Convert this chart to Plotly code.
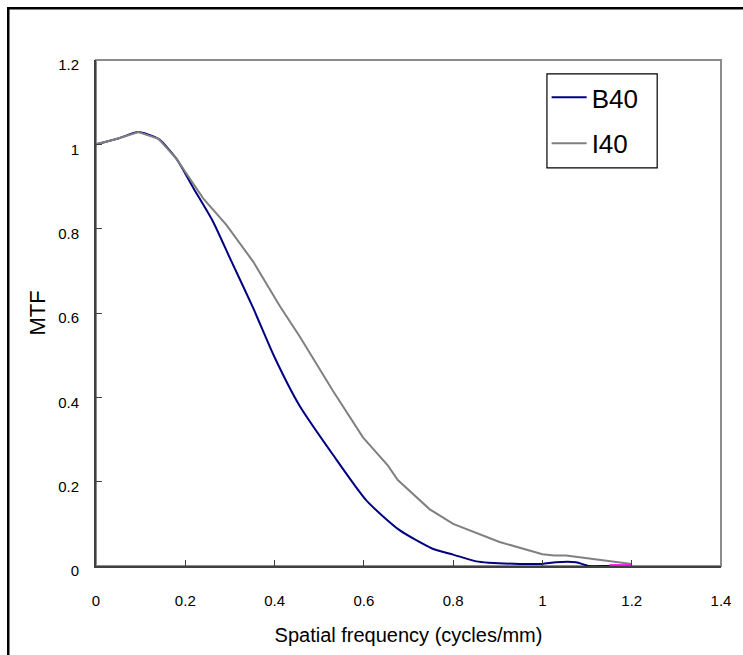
import plotly.graph_objects as go

# Data
b40_x = [0, 0.05, 0.095, 0.14, 0.18, 0.22, 0.262, 0.30, 0.352, 0.40, 0.456, 0.53,
         0.606, 0.68, 0.754, 0.80, 0.852, 0.88, 0.95, 1.0, 1.03, 1.075, 1.105, 1.15, 1.2]
b40_y = [1.0, 1.014, 1.029, 1.013, 0.966, 0.893, 0.817, 0.73, 0.612, 0.495, 0.38, 0.265,
         0.155, 0.085, 0.041, 0.027, 0.011, 0.008, 0.005, 0.005, 0.009, 0.009, 0.0, 0.0, 0.0]

i40_x = [0, 0.05, 0.095, 0.14, 0.18, 0.24, 0.292, 0.352, 0.412, 0.456, 0.531, 0.598,
         0.654, 0.676, 0.747, 0.80, 0.904, 1.0, 1.027, 1.053, 1.2]
i40_y = [1.0, 1.014, 1.029, 1.013, 0.966, 0.872, 0.809, 0.722, 0.616, 0.545, 0.415, 0.305,
         0.238, 0.204, 0.135, 0.10, 0.057, 0.028, 0.025, 0.025, 0.005]

extra_x = [1.15, 1.2]
extra_y = [0.002, 0.002]

x_ticks = [0, 0.2, 0.4, 0.6, 0.8, 1, 1.2, 1.4]
x_tick_labels = ["0", "0.2", "0.4", "0.6", "0.8", "1", "1.2", "1.4"]
y_ticks = [0, 0.2, 0.4, 0.6, 0.8, 1, 1.2]
y_tick_labels = ["0", "0.2", "0.4", "0.6", "0.8", "1", "1.2"]

FONT = "Liberation Sans, Arial, sans-serif"

fig = go.Figure()
fig.add_trace(go.Scatter(x=b40_x, y=b40_y, mode="lines", name="B40",
                         line=dict(color="#000080", width=2), legendgroup="a",
                         line_shape="spline", line_smoothing=0.6))
fig.add_trace(go.Scatter(x=i40_x, y=i40_y, mode="lines", name="I40",
                         line=dict(color="#808080", width=2), legendgroup="b"))
fig.add_trace(go.Scatter(x=extra_x, y=extra_y, mode="lines", showlegend=False,
                         line=dict(color="#ff00ff", width=2), hoverinfo="skip"))

fig.update_layout(
    width=743, height=655,
    margin=dict(l=96, r=20, t=60, b=87),
    paper_bgcolor="white", plot_bgcolor="white",
    font=dict(family=FONT, color="black"),
    showlegend=True,
    legend=dict(x=0.721, y=0.9724, xanchor="left", yanchor="top",
                borderwidth=0, bgcolor="rgba(0,0,0,0)",
                font=dict(size=26, family=FONT), tracegroupgap=9,
                traceorder="grouped", itemwidth=35),
    shapes=[
        dict(type="rect", xref="paper", yref="paper", x0=0, x1=1, y0=0, y1=1,
             line=dict(color="#8c8c8c", width=2), layer="below"),
        # legend frame
        dict(type="rect", xref="paper", yref="paper", x0=0.7215, x1=0.8979,
             y0=0.787, y1=0.9724, line=dict(color="black", width=1.2),
             fillcolor="rgba(0,0,0,0)"),
        # outer frame
        dict(type="rect", xref="paper", yref="paper", x0=-0.1404, x1=1.1,
             y0=-0.3, y1=1.1024, line=dict(color="black", width=2.5)),
    ],
)

fig.update_xaxes(range=[0, 1.4], tickvals=x_ticks, ticktext=x_tick_labels,
                 showgrid=False, zeroline=False, showline=True,
                 linecolor="#404040", linewidth=2, ticks="inside", ticklen=6,
                 tickcolor="#404040", tickwidth=1, ticklabelstandoff=20,
                 tickfont=dict(size=15, family=FONT),
                 title=dict(text="Spatial frequency (cycles/mm)",
                            font=dict(size=20, family=FONT), standoff=20))
fig.update_yaxes(range=[0, 1.2], tickvals=y_ticks, ticktext=y_tick_labels,
                 showgrid=False, zeroline=False, showline=True,
                 linecolor="#404040", linewidth=2, ticks="inside", ticklen=6,
                 tickcolor="#404040", tickwidth=1, ticklabelstandoff=12,
                 ticklabelshift=5,
                 tickfont=dict(size=15, family=FONT),
                 title=dict(text="MTF", font=dict(size=22, family=FONT), standoff=6))

fig.write_html("out.html")
